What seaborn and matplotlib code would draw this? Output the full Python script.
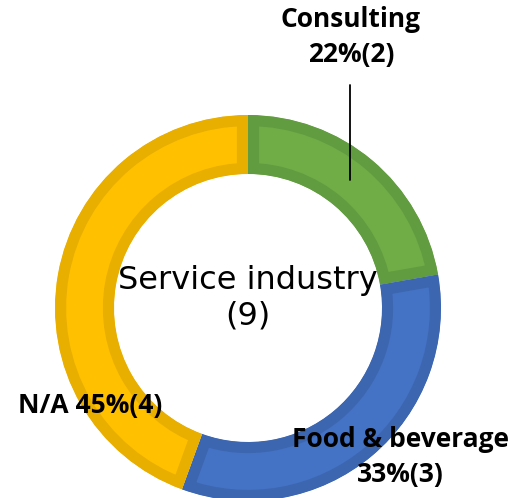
import matplotlib
matplotlib.use("Agg")
import matplotlib.pyplot as plt
import seaborn as sns

# === DATA ===
categories = ["Consulting", "Food & beverage", "N/A"]
counts = [2, 3, 4]
percent_labels = ["22%", "33%", "45%"]
center_title = "Service industry"
total_count = 9

# === STYLE ===
fill_colors = ["#70AD47", "#4472C4", "#FFC000"]
edge_colors = ["#629C40", "#3D66B0", "#E8AE00"]

sns.set_theme(style="white")
plt.rcParams["font.family"] = ["DejaVu Sans"]

W, H = 520, 498
fig = plt.figure(figsize=(W / 100, H / 100), dpi=100)
ax = fig.add_axes([0, 0, 1, 1])

# pixel-like coords, y measured from bottom
cx, cy = 248, H - 308
radius = 193
ring = 59

wedges, _ = ax.pie(
    counts,
    colors=fill_colors,
    startangle=90,
    counterclock=False,
    radius=radius,
    center=(cx, cy),
    wedgeprops=dict(width=ring),
    frame=False,
)
ax.set_xlim(0, W)
ax.set_ylim(0, H)
ax.set_aspect("equal")
ax.axis("off")

# darker inner border: thick stroke clipped to the wedge itself
for w, ec in zip(wedges, edge_colors):
    w.set_edgecolor(ec)
    w.set_linewidth(16)
    w.set_clip_on(True)
    w.set_clip_path(w.get_path(), w.get_transform())

# center label
ax.text(cx, H - 298, f"{center_title}\n({total_count})", ha="center", va="center",
        fontsize=23, linespacing=1.2, color="black")

# slice labels
lab_font = dict(family=["Open Sans", "DejaVu Sans"], fontweight="bold", fontsize=19,
                color="black", ha="center", va="center", linespacing=1.35)
ax.text(351, H - 37, f"{categories[0]}\n{percent_labels[0]}({counts[0]})", **lab_font)
ax.plot([350, 350], [H - 85, H - 180], color="black", lw=1.3)
ax.text(400, H - 457, f"{categories[1]}\n{percent_labels[1]}({counts[1]})", **lab_font)
ax.text(90, H - 405, f"{categories[2]} {percent_labels[2]}({counts[2]})", **lab_font)

fig.savefig("out.png", dpi=100)
